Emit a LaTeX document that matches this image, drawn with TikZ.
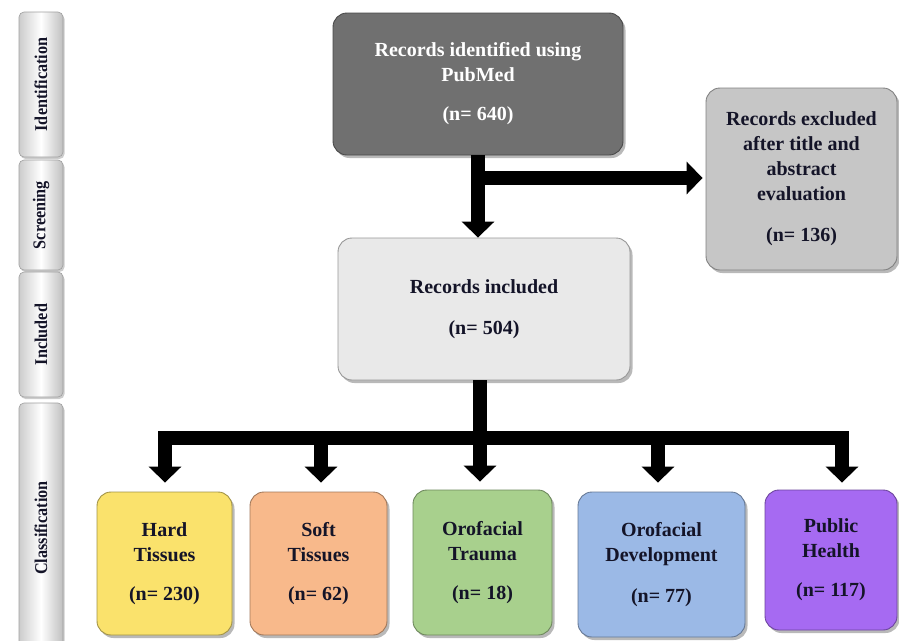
\documentclass[tikz,border=0pt]{standalone}
\usepackage{fontspec}
\setmainfont{Liberation Serif}
\usetikzlibrary{arrows.meta,shadows}
\definecolor{cTop}{HTML}{707070}
\definecolor{cExc}{HTML}{C6C6C6}
\definecolor{cInc}{HTML}{E9E9E9}
\definecolor{cHard}{HTML}{FAE26C}
\definecolor{cSoft}{HTML}{F8B98B}
\definecolor{cTrauma}{HTML}{A8D08D}
\definecolor{cDev}{HTML}{9BB9E6}
\definecolor{cPub}{HTML}{A66AF2}
\definecolor{cTxt}{HTML}{141428}
\newcommand{\tabtext}[1]{\rotatebox{90}{\scalebox{0.9}[1]{#1}}}
\begin{document}
\begin{tikzpicture}[x=1pt,y=-1pt,
  box/.style={rounded corners=14pt, draw=#1!65!black, fill=#1, line width=0.9pt,
    drop shadow={shadow xshift=2.5pt, shadow yshift=-3pt, opacity=0.55},
    align=center, inner sep=0pt, text=cTxt,
    font=\bfseries\fontsize{20}{25}\selectfont},
  tab/.style={rounded corners=5pt, draw=gray!75, line width=0.6pt,
    left color=gray!40, right color=gray!50, middle color=white,
    drop shadow={shadow xshift=1.5pt, shadow yshift=-2pt, opacity=0.4},
    minimum width=44pt, inner sep=0pt, text=cTxt,
    font=\bfseries\fontsize{18}{20}\selectfont},
  bar/.style={line width=14pt, line cap=rect},
  arr/.style={line width=14pt, -{Triangle[width=32pt,length=16pt]}}]
\useasboundingbox (0,0) rectangle (899,640);

% side tabs
\node[tab, minimum height=145pt] (tId) at (41,84.5) {\tabtext{Identification}};
\node[tab, minimum height=110pt] (tSc) at (41,215) {\tabtext{Screening}};
\node[tab, minimum height=125pt] (tIn) at (41,334.5) {\tabtext{Included}};
\node[tab, minimum height=250pt] (tCl) at (41,528) {\tabtext{Classification}};

% main boxes
\node[box=cTop, text=white, minimum width=290pt, minimum height=142pt] (top) at (478,84)
  {Records identified using\\PubMed\\[14pt](n= 640)};
\node[box=cExc, minimum width=191pt, minimum height=182pt] (exc) at (801.5,179)
  {Records excluded\\after title and\\abstract\\evaluation\\[16pt](n= 136)};
\node[box=cInc, minimum width=292pt, minimum height=142pt] (inc) at (484,309)
  {Records included\\[16pt](n= 504)};

% classification boxes
\node[box=cHard, minimum width=135pt, minimum height=143pt] (hard) at (164.5,563.5)
  {Hard\\Tissues\\[14pt](n= 230)};
\node[box=cSoft, minimum width=137pt, minimum height=143pt] (soft) at (318.5,563.5)
  {Soft\\Tissues\\[14pt](n= 62)};
\node[box=cTrauma, minimum width=139pt, minimum height=145pt] (trauma) at (482.5,562.5)
  {Orofacial\\Trauma\\[14pt](n= 18)};
\node[box=cDev, minimum width=167pt, minimum height=145pt] (dev) at (661.5,564.5)
  {Orofacial\\Development\\[16pt](n= 77)};
\node[box=cPub, minimum width=132pt, minimum height=140pt] (pub) at (831,560)
  {Public\\Health\\[14pt](n= 117)};

% connectors
\draw[arr] (top.south) -- (top.south |- inc.north);
\coordinate (j1) at (478,178);
\draw[arr, shorten >=3pt] (j1) -- (exc.west |- j1);

\coordinate (j2) at (480,438);
\draw[line width=14pt] (j2 |- inc.south) -- (j2);
\coordinate (b1) at (165,438);
\coordinate (b2) at (321,438);
\coordinate (b3) at (480,438);
\coordinate (b4) at (658,438);
\coordinate (b5) at (842,438);
\draw[bar] (b1) -- (b5);
\draw[arr, shorten >=9pt] (b1) -- (b1 |- hard.north);
\draw[arr, shorten >=9pt] (b2) -- (b2 |- soft.north);
\draw[arr, shorten >=8pt] (b3) -- (b3 |- trauma.north);
\draw[arr, shorten >=9pt] (b4) -- (b4 |- dev.north);
\draw[arr, shorten >=7pt] (b5) -- (b5 |- pub.north);
\end{tikzpicture}
\end{document}
